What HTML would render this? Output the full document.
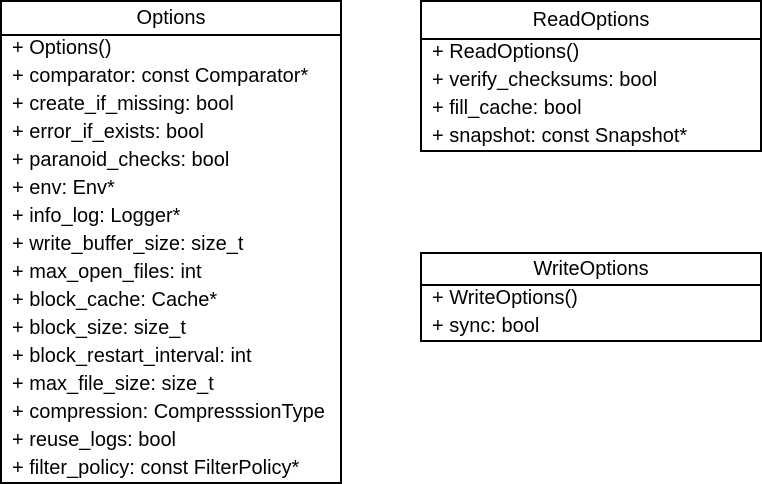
<!DOCTYPE html>
<html><head><style>html,body{margin:0;padding:0;background:#fff;}svg{display:block}</style></head><body>
<svg width="762" height="484" xmlns="http://www.w3.org/2000/svg" font-family="Liberation Sans, sans-serif" font-size="20" fill="#000">
<g fill="none" stroke="#000" stroke-width="2">
<rect x="1" y="1" width="340" height="482"/>
<line x1="1" y1="35" x2="341" y2="35"/>
<rect x="421" y="1" width="340" height="150"/>
<line x1="421" y1="39" x2="761" y2="39"/>
<rect x="421" y="253" width="340" height="88"/>
<line x1="421" y1="285" x2="761" y2="285"/>
</g>
<text x="171" y="24" text-anchor="middle">Options</text>
<g>
<text x="12" y="54">+ Options()</text>
<text x="12" y="82">+ comparator: const Comparator*</text>
<text x="12" y="110">+ create_if_missing: bool</text>
<text x="12" y="138">+ error_if_exists: bool</text>
<text x="12" y="166">+ paranoid_checks: bool</text>
<text x="12" y="194">+ env: Env*</text>
<text x="12" y="222">+ info_log: Logger*</text>
<text x="12" y="250">+ write_buffer_size: size_t</text>
<text x="12" y="278">+ max_open_files: int</text>
<text x="12" y="306">+ block_cache: Cache*</text>
<text x="12" y="334">+ block_size: size_t</text>
<text x="12" y="362">+ block_restart_interval: int</text>
<text x="12" y="390">+ max_file_size: size_t</text>
<text x="12" y="418">+ compression: CompresssionType</text>
<text x="12" y="446">+ reuse_logs: bool</text>
<text x="12" y="474">+ filter_policy: const FilterPolicy*</text>
</g>
<text x="591" y="26" text-anchor="middle">ReadOptions</text>
<text x="432" y="58">+ ReadOptions()</text>
<text x="432" y="86">+ verify_checksums: bool</text>
<text x="432" y="114">+ fill_cache: bool</text>
<text x="432" y="142">+ snapshot: const Snapshot*</text>
<text x="591" y="275" text-anchor="middle">WriteOptions</text>
<text x="432" y="304">+ WriteOptions()</text>
<text x="432" y="332">+ sync: bool</text>
</svg>
</body></html>
